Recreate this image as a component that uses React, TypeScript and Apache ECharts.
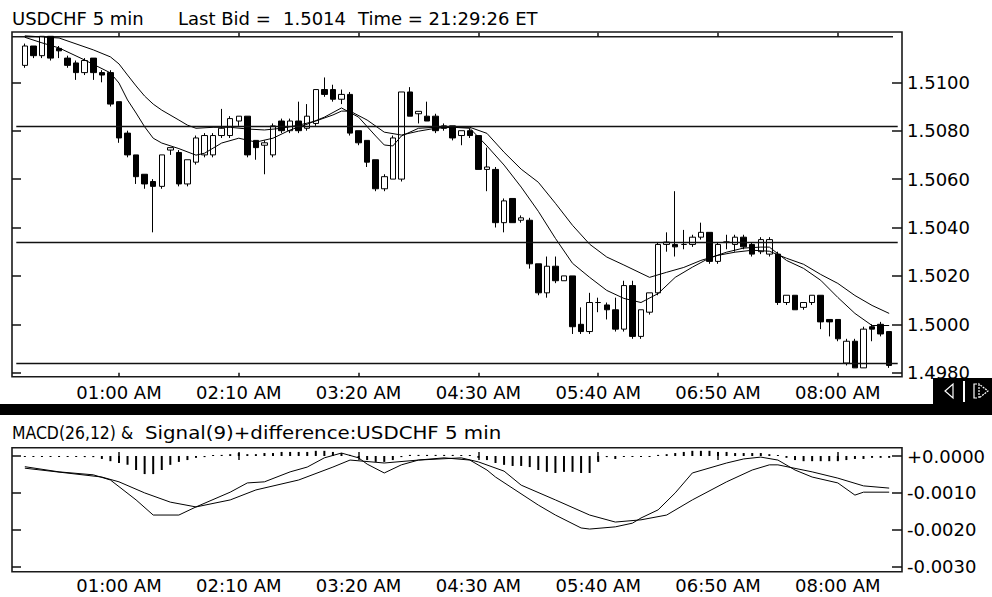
import React, { useEffect, useRef } from "react";
import * as echarts from "echarts";

// ---- candle data (00:05 .. 08:30, 5-min bars) ----
const opens = [
  1.5107, 1.5115, 1.5111, 1.5119, 1.5114, 1.511, 1.5108, 1.5104, 1.511, 1.5104,
  1.5104, 1.5092, 1.5079, 1.507, 1.5062, 1.5059, 1.5057, 1.5072, 1.5071, 1.5058,
  1.5067, 1.507, 1.507, 1.5078, 1.5078, 1.5084, 1.5086, 1.5076, 1.5074, 1.507,
  1.5084, 1.508, 1.5084, 1.5081, 1.5083, 1.5097, 1.5097, 1.5093, 1.5095, 1.508,
  1.5076, 1.5068, 1.5056, 1.506, 1.506, 1.5096, 1.5087, 1.5086, 1.5086, 1.5082,
  1.5082, 1.5078, 1.508, 1.5078, 1.5064, 1.5064, 1.5042, 1.5052, 1.5043, 1.5043,
  1.5025, 1.5013, 1.5024, 1.5018, 1.502, 1.5, 1.4997, 1.5009, 1.5008, 1.5006,
  1.4998, 1.5016, 1.4995, 1.5005, 1.5013, 1.5033, 1.5033, 1.5033, 1.5033, 1.5036,
  1.5038, 1.5026, 1.5034, 1.5033, 1.5036, 1.5033, 1.503, 1.5029, 1.5029, 1.5009,
  1.5012, 1.5007, 1.5009, 1.5012, 1.5002, 1.5002, 1.4984, 1.4993, 1.4982, 1.4999,
  1.5, 1.4997,
];
const closes = [
  1.5115, 1.5111, 1.5119, 1.511, 1.5113, 1.5107, 1.5104, 1.5109, 1.5104, 1.5103,
  1.5091, 1.5077, 1.507, 1.5061, 1.5058, 1.5057, 1.507, 1.5073, 1.5058, 1.5068,
  1.5077, 1.5078, 1.5078, 1.5081, 1.5085, 1.5086, 1.507, 1.5073, 1.5075, 1.5082,
  1.508, 1.5084, 1.508, 1.5086, 1.5097, 1.5095, 1.5093, 1.5095, 1.5079, 1.5075,
  1.5067, 1.5056, 1.5061, 1.5077, 1.5096, 1.5086, 1.5088, 1.5084, 1.508, 1.5081,
  1.5077, 1.508, 1.5078, 1.5064, 1.5065, 1.5042, 1.5051, 1.5042, 1.5044, 1.5025,
  1.5013, 1.5024, 1.5018, 1.502, 1.4999, 1.4997, 1.5009, 1.5009, 1.5006, 1.4998,
  1.5016, 1.4995, 1.5006, 1.5013, 1.5033, 1.5034, 1.5032, 1.5033, 1.5036, 1.5038,
  1.5026, 1.5033, 1.5034, 1.5036, 1.5032, 1.5029, 1.5035, 1.5035, 1.5009, 1.5012,
  1.5006, 1.5009, 1.5012, 1.5001, 1.5001, 1.4994, 1.4993, 1.4982, 1.4998, 1.4998,
  1.4996, 1.4983,
];
const lows = [
  1.5106, 1.511, 1.511, 1.5109, 1.511, 1.5106, 1.5101, 1.5103, 1.5101, 1.51,
  1.509, 1.5075, 1.5069, 1.5058, 1.5056, 1.5038, 1.5056, 1.507, 1.5057, 1.5057,
  1.5066, 1.5069, 1.5069, 1.5077, 1.5077, 1.5082, 1.5069, 1.5068, 1.5062, 1.5069,
  1.5079, 1.5079, 1.5079, 1.508, 1.5082, 1.5094, 1.5092, 1.5091, 1.5078, 1.5074,
  1.5065, 1.5055, 1.5055, 1.506, 1.5059, 1.5086, 1.5083, 1.5084, 1.5079, 1.508,
  1.5076, 1.5074, 1.5077, 1.5064, 1.5055, 1.504, 1.5038, 1.5042, 1.5042, 1.5023,
  1.5012, 1.5011, 1.5017, 1.5018, 1.4996, 1.4996, 1.4996, 1.5005, 1.5002, 1.4997,
  1.4997, 1.4994, 1.4994, 1.5004, 1.5012, 1.503, 1.5028, 1.5031, 1.5032, 1.5035,
  1.5025, 1.5025, 1.5031, 1.503, 1.5031, 1.5028, 1.5029, 1.5028, 1.5008, 1.5008,
  1.5006, 1.5006, 1.5008, 1.4998, 1.4995, 1.4993, 1.4983, 1.4982, 1.4982, 1.4993,
  1.4995, 1.4982,
];
const highs = [
  1.5116, 1.5115, 1.5119, 1.5119, 1.5115, 1.5111, 1.5109, 1.511, 1.511, 1.5105,
  1.5105, 1.5092, 1.508, 1.507, 1.5062, 1.506, 1.507, 1.5073, 1.5072, 1.5068,
  1.5078, 1.5079, 1.5079, 1.5089, 1.5086, 1.5086, 1.5086, 1.5076, 1.5076, 1.5083,
  1.5085, 1.5085, 1.5092, 1.5091, 1.5097, 1.5102, 1.5099, 1.5097, 1.5096, 1.508,
  1.5076, 1.5068, 1.5062, 1.5078, 1.5096, 1.5098, 1.5088, 1.5092, 1.5087, 1.5083,
  1.5082, 1.508, 1.5081, 1.5078, 1.5073, 1.5065, 1.5052, 1.5052, 1.5045, 1.5044,
  1.5025, 1.5028, 1.5028, 1.502, 1.502, 1.5007, 1.5013, 1.5011, 1.5009, 1.5011,
  1.5018, 1.5018, 1.5006, 1.5013, 1.5034, 1.5038, 1.5055, 1.5039, 1.5037, 1.5042,
  1.5038, 1.5034, 1.5037, 1.5037, 1.5037, 1.5034, 1.5036, 1.5036, 1.503, 1.5012,
  1.5012, 1.5009, 1.5012, 1.5012, 1.5002, 1.5002, 1.4994, 1.4994, 1.4999, 1.5,
  1.5001, 1.4997,
];

// ---- moving averages (bar index, price) ----
const maFastIdx = [0, 2, 4, 7, 10, 11, 12, 13, 14, 15, 16, 18, 20, 21, 23, 25, 27, 29, 31, 33, 35, 37, 39, 41, 42, 43, 44, 46, 48, 50, 52, 54, 56, 58, 60, 62, 64, 66, 68, 70, 72, 74, 76, 78, 80, 82, 84, 86, 87, 89, 91, 93, 95, 97, 99, 101];
const maFastVal = [1.51186, 1.51163, 1.51142, 1.51092, 1.51039, 1.50997, 1.50927, 1.50873, 1.50816, 1.50769, 1.50749, 1.50726, 1.50699, 1.50707, 1.50749, 1.50769, 1.50753, 1.50769, 1.50803, 1.50827, 1.50856, 1.50894, 1.50856, 1.50778, 1.50741, 1.50737, 1.50778, 1.5081, 1.50814, 1.50814, 1.5081, 1.50737, 1.50658, 1.50567, 1.50467, 1.50355, 1.50252, 1.50194, 1.5014, 1.50107, 1.5009, 1.50127, 1.50194, 1.50236, 1.50274, 1.50298, 1.50315, 1.50319, 1.50319, 1.50264, 1.50231, 1.50182, 1.50111, 1.50045, 1.49995, 1.49995];
const maSlowIdx = [0, 4, 8, 10, 11, 12, 13, 14, 15, 16, 18, 19, 20, 22, 24, 26, 28, 30, 32, 34, 36, 37, 38, 40, 42, 44, 46, 48, 50, 52, 54, 56, 58, 60, 62, 64, 66, 68, 70, 72, 73, 75, 77, 79, 81, 83, 85, 87, 89, 91, 93, 95, 97, 99, 101];
const maSlowVal = [1.51192, 1.51183, 1.51134, 1.51105, 1.51076, 1.5103, 1.50985, 1.50943, 1.5091, 1.50885, 1.50844, 1.50823, 1.5081, 1.50814, 1.50814, 1.50807, 1.50803, 1.5081, 1.50823, 1.5084, 1.50865, 1.50881, 1.50881, 1.50844, 1.50794, 1.50782, 1.50798, 1.5081, 1.50814, 1.50814, 1.50789, 1.50711, 1.50641, 1.50587, 1.505, 1.50409, 1.50331, 1.50278, 1.50245, 1.50211, 1.50194, 1.50215, 1.50235, 1.50264, 1.50285, 1.50298, 1.50306, 1.50302, 1.50273, 1.50248, 1.50206, 1.50169, 1.50119, 1.50078, 1.50045];

// ---- horizontal levels ----
const levels = [1.50817, 1.50337, 1.4984];

// ---- MACD panel ----
const macdIdx = [0, 4, 8, 10, 13, 15, 18, 20, 24, 26, 28, 31, 33, 35, 37, 39, 40, 42, 44, 46, 49, 52, 54, 55, 60, 62, 65, 66, 69, 71, 72, 74, 76, 78, 82, 84, 86, 88, 90, 92, 95, 97, 98, 101];
const macdVal = [-0.00029, -0.00043, -0.00051, -0.00065, -0.00119, -0.0016, -0.0016, -0.00138, -0.00098, -0.00073, -0.0007, -0.00043, -0.0003, -0.00005, 0.00008, -0.00005, -0.00022, -0.00046, -0.00024, -0.00011, -0.00005, -0.00011, -0.00038, -0.00057, -0.00133, -0.0016, -0.00195, -0.00198, -0.00192, -0.00182, -0.00168, -0.00146, -0.001, -0.00046, -0.00019, -0.00008, -0.00003, -0.00011, -0.00038, -0.00057, -0.00073, -0.00106, -0.00098, -0.00098];
const signalIdx = [0, 9, 11, 14, 17, 20, 24, 27, 32, 36, 38, 42, 46, 51, 53, 56, 58, 62, 66, 69, 72, 75, 78, 82, 85, 87, 88, 92, 95, 98, 101];
const signalVal = [-0.00033, -0.00057, -0.0007, -0.001, -0.00125, -0.00138, -0.00119, -0.00092, -0.00065, -0.0003, -0.00011, -0.00019, -0.00011, -0.00005, -0.00016, -0.00041, -0.00079, -0.00119, -0.0016, -0.00179, -0.00173, -0.0016, -0.00119, -0.0007, -0.00038, -0.00024, -0.00024, -0.00043, -0.0006, -0.00081, -0.00087];
const histVal = [
  -0.00001, -0.00001, -0.00001, -0.00001, -0.00001, -0.00001, -0.00001, -0.00003, -0.00003, -0.00008,
  -0.00014, -0.00019, -0.00024, -0.00038, -0.00049, -0.00049, -0.00038, -0.00024, -0.00016, -0.00011,
  -0.00005, -0.00003, 0, 0.00003, 0.00005, 0.00008, 0.00005, 0.00005, 0.00008, 0.00008,
  0.00011, 0.00011, 0.00011, 0.00011, 0.00014, 0.00014, 0.00011, 0.00008, 0.00003, -0.00005,
  -0.00011, -0.00016, -0.00016, -0.00011, -0.00003, 0.00003, 0.00003, 0.00003, 0.00003, 0.00003,
  0.00003, 0.00001, 0, -0.00005, -0.00011, -0.00019, -0.00024, -0.00027, -0.00027, -0.0003,
  -0.00038, -0.00043, -0.00046, -0.00043, -0.00043, -0.00046, -0.00046, -0.00016, -0.00003, -0.00008,
  -0.00001, -0.00001, -0.00001, -0.00001, 0.00003, 0.00005, 0.00008, 0.00011, 0.00014, 0.00014,
  0.00014, 0.00011, 0.00011, 0.00008, 0.00008, 0.00008, 0.00008, 0.00005, 0, -0.00005,
  -0.00011, -0.00014, -0.00014, -0.00014, -0.00014, -0.00014, -0.00011, -0.00008, -0.00008, -0.00005,
  -0.00005, -0.00005,
];

// ---- axes ----
const tickLabels = ["01:00 AM", "02:10 AM", "03:20 AM", "04:30 AM", "05:40 AM", "06:50 AM", "08:00 AM"];
const priceMin = 1.498;
const priceMax = 1.51;
const priceStep = 0.002;
const macdMin = -0.003;
const macdMax = 0;
const macdStep = 0.001;

const FONT = "'DejaVu Sans', sans-serif";

function timeLabel(minutes: number): string {
  const h = Math.floor(minutes / 60);
  const m = minutes % 60;
  const hh = h % 12 === 0 ? 12 : h % 12;
  return `${String(hh).padStart(2, "0")}:${String(m).padStart(2, "0")} ${h < 12 ? "AM" : "PM"}`;
}

export default function App() {
  const ref = useRef<HTMLDivElement>(null);

  useEffect(() => {
    if (!ref.current) return;
    const chart = echarts.init(ref.current, undefined, { renderer: "svg" });
    const N = opens.length;
    // one empty slot before and after the bars
    const categories = Array.from({ length: N + 2 }, (_, k) => timeLabel(k * 5));
    const showTick = (_idx: number, val: string) => tickLabels.includes(val);

    const xAxisCfg = (gridIndex: number, position: string, offset: number, showLabel: boolean, inside: boolean, margin: number) => ({
      type: "category",
      gridIndex,
      position,
      offset,
      data: categories,
      boundaryGap: true,
      axisLine: { show: false },
      axisTick: { show: true, inside, length: 4, interval: showTick, alignWithLabel: true, lineStyle: { color: "#111", width: 1.5 } },
      axisLabel: { show: showLabel, interval: showTick, color: "#000", fontFamily: FONT, fontSize: 18, margin },
      splitLine: { show: false },
    });

    const yAxisCfg = (gridIndex: number, position: string, min: number, max: number, interval: number, showLabel: boolean, len: number, fmt: (v: number) => string) => ({
      type: "value",
      gridIndex,
      position,
      min,
      max,
      interval,
      axisLine: { show: false },
      axisTick: { show: true, inside: true, length: len, lineStyle: { color: "#111", width: 1.5 } },
      axisLabel: { show: showLabel, color: "#000", fontFamily: FONT, fontSize: 18, margin: 5, formatter: fmt },
      splitLine: { show: false },
    });

    const priceFmt = (v: number) => v.toFixed(4);
    const macdFmt = (v: number) => (Math.abs(v) < 1e-9 ? "+0.0000" : v.toFixed(4));

    const candleData = opens.map((o, i) => [i + 1, o, closes[i], lows[i], highs[i]]);

    const lineStyle = { color: "#000", width: 1 };

    const option: any = {
      animation: false,
      backgroundColor: "#ffffff",
      grid: [
        { left: 12, right: 90, top: 82.3, height: 290.4 },
        { left: 12, right: 90, top: 456, height: 110.7 },
      ],
      xAxis: [
        xAxisCfg(0, "bottom", 4, true, true, 7),
        xAxisCfg(0, "top", 45.6, false, false, 4),
        xAxisCfg(1, "bottom", 5, true, true, 5),
        xAxisCfg(1, "top", 8.3, false, true, 4),
      ],
      yAxis: [
        yAxisCfg(0, "right", priceMin, priceMax, priceStep, true, 10, priceFmt),
        yAxisCfg(0, "left", priceMin, priceMax, priceStep, false, 9, priceFmt),
        yAxisCfg(1, "right", macdMin, macdMax, macdStep, true, 10, macdFmt),
        yAxisCfg(1, "left", macdMin, macdMax, macdStep, false, 9, macdFmt),
      ],
      graphic: [
        { type: "rect", shape: { x: 12, y: 32, width: 890, height: 344.7 }, style: { fill: "none", stroke: "#1a1a1a", lineWidth: 1.6 }, silent: true },
        { type: "line", shape: { x1: 12, y1: 36.7, x2: 893, y2: 36.7 }, style: { stroke: "#1a1a1a", lineWidth: 1.4 }, silent: true },
        { type: "rect", shape: { x: 12, y: 447.7, width: 890, height: 124 }, style: { fill: "none", stroke: "#1a1a1a", lineWidth: 1.6 }, silent: true },
        { type: "rect", shape: { x: 0, y: 404, width: 992, height: 11 }, style: { fill: "#000" }, silent: true },
        { type: "rect", shape: { x: 933, y: 378, width: 59, height: 27 }, style: { fill: "#000" }, silent: true },
        { type: "polygon", shape: { points: [[953, 384], [953, 398], [945, 391]] }, style: { fill: "none", stroke: "#fff", lineWidth: 1.2 }, silent: true },
        { type: "line", shape: { x1: 964, y1: 381, x2: 964, y2: 402 }, style: { stroke: "#fff", lineWidth: 2 }, silent: true },
        { type: "polyline", shape: { points: [[977, 384], [974, 384], [974, 398], [977, 398]] }, style: { fill: "none", stroke: "#fff", lineWidth: 1.2 }, silent: true },
        { type: "polygon", shape: { points: [[979, 384], [979, 398], [988, 391]] }, style: { fill: "none", stroke: "#fff", lineWidth: 1.2, lineDash: [2, 1] }, silent: true },
        // titles
        { type: "text", x: 12, y: 18.5, style: { text: "USDCHF 5 min", font: `18px ${FONT}`, fill: "#000", verticalAlign: "middle" }, silent: true },
        { type: "text", x: 178, y: 18.5, style: { text: "Last Bid =", font: `18px ${FONT}`, fill: "#000", verticalAlign: "middle" }, silent: true },
        { type: "text", x: 283, y: 18.5, style: { text: "1.5014", font: `18px ${FONT}`, fill: "#000", verticalAlign: "middle" }, silent: true },
        { type: "text", x: 358, y: 18.5, style: { text: "Time = 21:29:26 ET", font: `18px ${FONT}`, fill: "#000", verticalAlign: "middle" }, silent: true },
        { type: "text", x: 12, y: 432.5, scaleX: 0.87, style: { text: "MACD(26,12) &", font: `18px ${FONT}`, fill: "#000", verticalAlign: "middle" }, silent: true },
        { type: "text", x: 145, y: 432.5, scaleX: 1.1, style: { text: "Signal(9)+difference:USDCHF 5 min", font: `18px ${FONT}`, fill: "#000", verticalAlign: "middle" }, silent: true },
      ],
      series: [
        {
          type: "candlestick",
          xAxisIndex: 0,
          yAxisIndex: 0,
          data: candleData,
          encode: { x: 0, y: [1, 2, 3, 4] },
          barWidth: 6,
          clip: false,
          itemStyle: {
            color: "#ffffff",
            color0: "#000000",
            borderColor: "#000000",
            borderColor0: "#000000",
            borderColorDoji: "#000000",
            borderWidth: 1,
          },
          markLine: {
            silent: true,
            symbol: "none",
            label: { show: false },
            lineStyle: { color: "#111", width: 1.4, type: "solid" },
            data: levels.map((v) => [{ coord: [categories[0], v] }, { coord: [categories[N + 1], v] }]),
          },
        },
        {
          type: "line",
          xAxisIndex: 0,
          yAxisIndex: 0,
          data: maFastIdx.map((i, k) => [i + 1, maFastVal[k]]),
          showSymbol: false,
          symbol: "none",
          clip: false,
          lineStyle,
        },
        {
          type: "line",
          xAxisIndex: 0,
          yAxisIndex: 0,
          data: maSlowIdx.map((i, k) => [i + 1, maSlowVal[k]]),
          showSymbol: false,
          symbol: "none",
          clip: false,
          lineStyle,
        },
        {
          type: "bar",
          xAxisIndex: 2,
          yAxisIndex: 2,
          data: histVal.map((v, i) => [i + 1, v]),
          barWidth: 2,
          barMinHeight: 1,
          clip: false,
          itemStyle: { color: "#000" },
        },
        {
          type: "line",
          xAxisIndex: 2,
          yAxisIndex: 2,
          data: macdIdx.map((i, k) => [i + 1, macdVal[k]]),
          showSymbol: false,
          symbol: "none",
          clip: false,
          lineStyle,
        },
        {
          type: "line",
          xAxisIndex: 2,
          yAxisIndex: 2,
          data: signalIdx.map((i, k) => [i + 1, signalVal[k]]),
          showSymbol: false,
          symbol: "none",
          clip: false,
          lineStyle,
        },
      ],
    };

    chart.setOption(option);
    return () => chart.dispose();
  }, []);

  return (
    <div
      ref={ref}
      style={{ position: "fixed", left: 0, top: 0, width: 992, height: 597, background: "#fff" }}
    />
  );
}
